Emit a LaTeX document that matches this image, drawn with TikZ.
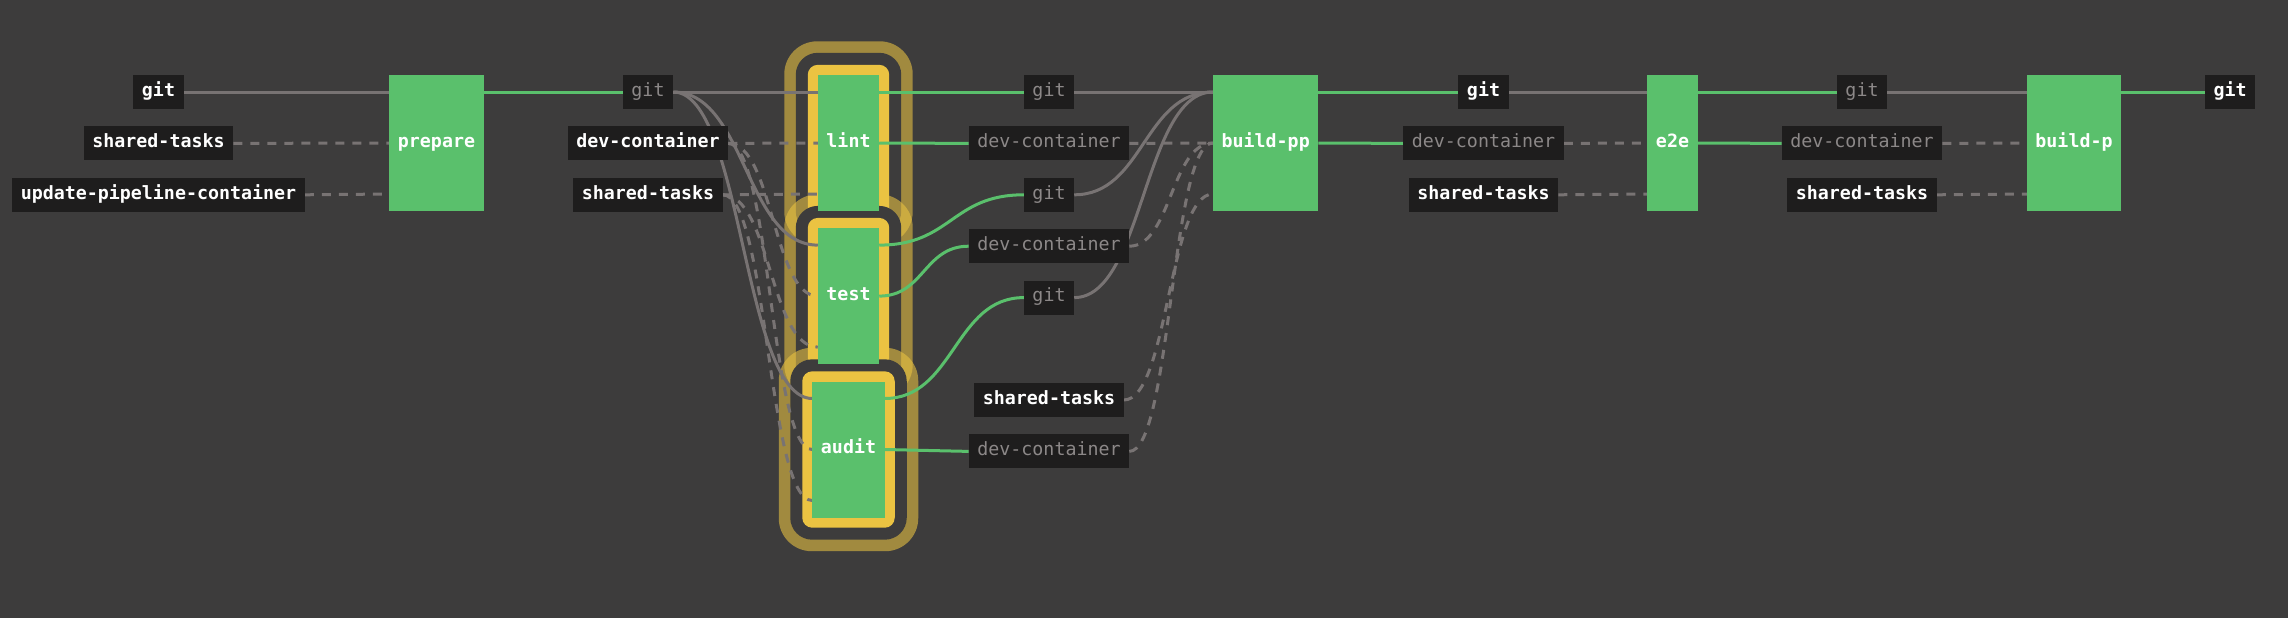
\documentclass[tikz,border=0pt]{standalone}
\usepackage{fontspec}
\setmonofont{DejaVu Sans Mono}
\usepackage{tikz}
\usetikzlibrary{calc, positioning}
\definecolor{canvas}{HTML}{3D3C3C}
\definecolor{tagfill}{HTML}{1E1D1D}
\definecolor{okgreen}{HTML}{5AC06C}
\definecolor{runyellow}{HTML}{EBC342}
\definecolor{wiregray}{HTML}{787373}
\definecolor{dimtext}{HTML}{8C8888}
\pgfdeclarelayer{halo}
\pgfdeclarelayer{wires}
\pgfsetlayers{halo,wires,main}

\begin{document}
\begin{tikzpicture}[x=1pt, y=-1pt,
    tag/.style={fill=tagfill, text=white, font=\ttfamily\bfseries\fontsize{18.3}{20}\selectfont, inner xsep=8.5pt, inner ysep=0pt, text height=13.9pt, text depth=5.3pt, minimum height=34pt},
    dimtag/.style={tag, text=dimtext, font=\ttfamily\fontsize{18.3}{20}\selectfont},
    job/.style={fill=okgreen, text=white, font=\ttfamily\bfseries\fontsize{18.3}{20}\selectfont, inner xsep=8.5pt, inner ysep=0pt, text height=13.9pt, text depth=5.3pt, minimum height=136pt},
    curvy/.style={to path={let \p1=(\tikztostart), \p2=(\tikztotarget) in .. controls (\x1/2+\x2/2,\y1) and (\x1/2+\x2/2,\y2) .. (\p2)}},
    link/.style={curvy, draw=wiregray, line width=3pt},
    loose/.style={link, dash pattern=on 9pt off 8pt},
    flow/.style={curvy, draw=okgreen, line width=3pt},
  ]
  \useasboundingbox (0,0) rectangle (2288,618);

  \node[tag] (gitA) at (158.5,92) {git};
  \node[tag, below=17pt of gitA] (sharedA) {shared-tasks};
  \node[tag, below=17pt of sharedA] (upc) {update-pipeline-container};
  \node[job] (prepare) at (436.5,143) {prepare};

  \node[dimtag] (gitB) at (648,92) {git};
  \node[tag, below=17pt of gitB] (devB) {dev-container};
  \node[tag, below=17pt of devB] (sharedB) {shared-tasks};

  \node[job] (lint) at (848.5,143) {lint};
  \node[job, below=16.7pt of lint] (test) {test};
  \node[job, below=17pt of test] (audit) {audit};

  \node[dimtag] (gitC1) at (1049,92) {git};
  \node[dimtag, below=17pt of gitC1] (devC1) {dev-container};
  \node[dimtag, below=17pt of devC1] (gitC2) {git};
  \node[dimtag, below=17pt of gitC2] (devC2) {dev-container};
  \node[dimtag, below=17pt of devC2] (gitC3) {git};
  \node[tag, below=68pt of gitC3] (sharedC) {shared-tasks};
  \node[dimtag, below=17pt of sharedC] (devC3) {dev-container};

  \node[job] (buildpp) at (1265.7,143) {build-pp};

  \node[tag] (gitD) at (1483.5,92) {git};
  \node[dimtag, below=17pt of gitD] (devD) {dev-container};
  \node[tag, below=17pt of devD] (sharedD) {shared-tasks};

  \node[job] (e2e) at (1672.5,143) {e2e};

  \node[dimtag] (gitE) at (1862,92) {git};
  \node[dimtag, below=17pt of gitE] (devE) {dev-container};
  \node[tag, below=17pt of devE] (sharedE) {shared-tasks};

  \node[job] (buildp) at (2074,143) {build-p};
  \node[tag] (gitF) at (2230,92) {git};

  \begin{pgfonlayer}{halo}
    \fill[canvas] (0,0) rectangle (2288,618);
    \foreach \j in {lint,test,audit} {
      \fill[runyellow, fill opacity=.58, rounded corners=33pt] ($(\j.north west)+(-33.5,-33.5)$) rectangle ($(\j.south east)+(33.5,33.5)$);
      \fill[canvas, rounded corners=22pt] ($(\j.north west)+(-22,-22)$) rectangle ($(\j.south east)+(22,22)$);
      \fill[runyellow, rounded corners=10pt] ($(\j.north west)+(-10,-10)$) rectangle ($(\j.south east)+(10,10)$);
    }
  \end{pgfonlayer}

  \begin{pgfonlayer}{wires}
    \draw[link] (gitA.east) to ([yshift=51pt]prepare.west);
    \draw[loose] (sharedA.east) to (prepare.west);
    \draw[loose] (upc.east) to ([yshift=-51pt]prepare.west);
    \draw[flow] ([yshift=51pt]prepare.east) to (gitB.west);

    \foreach \j in {lint,test,audit} {
      \draw[link] (gitB.east) to ([yshift=51pt]\j.west);
      \draw[loose] (devB.east) to (\j.west);
      \draw[loose] (sharedB.east) to ([yshift=-51pt]\j.west);
    }

    \draw[flow] ([yshift=51pt]lint.east) to (gitC1.west);
    \draw[flow] (lint.east) to (devC1.west);
    \draw[flow] ([yshift=51pt]test.east) to (gitC2.west);
    \draw[flow] (test.east) to (devC2.west);
    \draw[flow] ([yshift=51pt]audit.east) to (gitC3.west);
    \draw[flow] (audit.east) to (devC3.west);

    \foreach \r in {gitC1,gitC2,gitC3}
      \draw[link] (\r.east) to ([yshift=51pt]buildpp.west);
    \foreach \r in {devC1,devC2,devC3}
      \draw[loose] (\r.east) to (buildpp.west);
    \draw[loose] (sharedC.east) to ([yshift=-51pt]buildpp.west);

    \draw[flow] ([yshift=51pt]buildpp.east) to (gitD.west);
    \draw[flow] (buildpp.east) to (devD.west);
    \draw[link] (gitD.east) to ([yshift=51pt]e2e.west);
    \draw[loose] (devD.east) to (e2e.west);
    \draw[loose] (sharedD.east) to ([yshift=-51pt]e2e.west);

    \draw[flow] ([yshift=51pt]e2e.east) to (gitE.west);
    \draw[flow] (e2e.east) to (devE.west);
    \draw[link] (gitE.east) to ([yshift=51pt]buildp.west);
    \draw[loose] (devE.east) to (buildp.west);
    \draw[loose] (sharedE.east) to ([yshift=-51pt]buildp.west);

    \draw[flow] ([yshift=51pt]buildp.east) to (gitF.west);
  \end{pgfonlayer}
\end{tikzpicture}
\end{document}
